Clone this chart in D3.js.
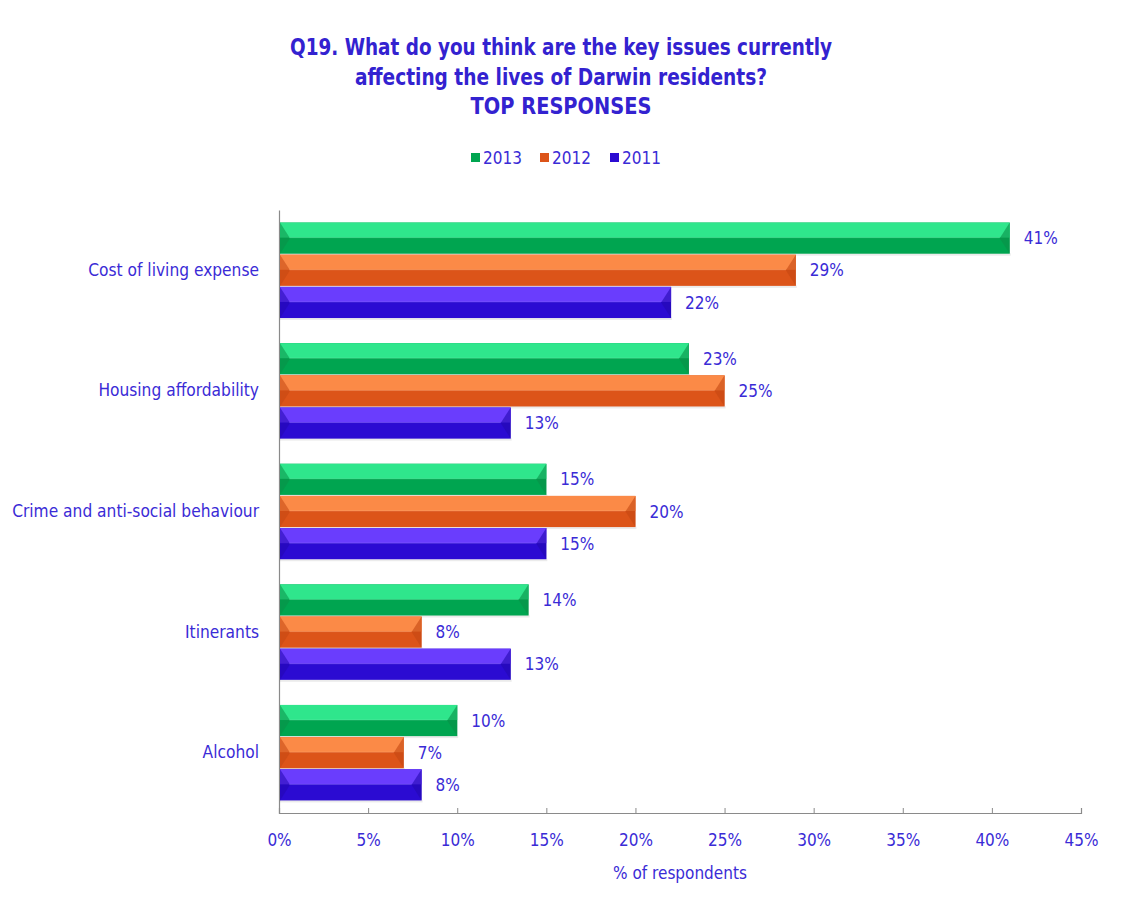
<!DOCTYPE html>
<html><head><meta charset="utf-8">
<script src="https://cdn.jsdelivr.net/npm/d3@7"></script>
<style>
html,body{margin:0;padding:0;background:#fff;}
text{font-family:'Liberation Sans Narrow','Arial Narrow','DejaVu Sans Condensed',sans-serif;}
</style></head>
<body>
<svg id="c" width="1122" height="907"></svg>
<script>
const categories = ["Cost of living expense","Housing affordability","Crime and anti-social behaviour","Itinerants","Alcohol"];
const years = ["2013","2012","2011"];
const values2013 = [41,23,15,14,10];
const values2012 = [29,25,20,8,7];
const values2011 = [22,13,15,13,8];
const xTicks = [0,5,10,15,20,25,30,35,40,45];
const titleLines = ["Q19. What do you think are the key issues currently","affecting the lives of Darwin residents?","TOP RESPONSES"];
const xTitle = "% of respondents";

const seriesVals = {"2013":values2013,"2012":values2012,"2011":values2011};
const light = {"2013":"#2fe68c","2012":"#fb8a47","2011":"#6a3dfd"};
const dark  = {"2013":"#00a550","2012":"#dc5419","2011":"#2b0bd2"};
const edge  = {"2013":"#0a8f47","2012":"#c44712","2011":"#2308b0"};
const txt = "#3a2bd6";
const FF = "'Liberation Sans Narrow','Arial Narrow','DejaVu Sans Condensed',sans-serif";

const svg = d3.select("#c");
const L=279, R=1081, T=210, B=813;
const x = d3.scaleLinear().domain([0,45]).range([L,R]);
const y = d3.scaleBand().domain(categories).range([T,B]).paddingInner(0.2).paddingOuter(0.1);
const yi = d3.scaleBand().domain(years).range([0,y.bandwidth()]).padding(0);

// title
const titleLen=[542,412,181];
svg.append("g").selectAll("text").data(titleLines).join("text")
  .attr("x",561).attr("y",(d,i)=>55+i*29.5).attr("text-anchor","middle")
  .attr("font-size",23).attr("font-weight","bold").attr("fill","#3322d0")
  .attr("textLength",(d,i)=>titleLen[i]).attr("lengthAdjust","spacingAndGlyphs").text(d=>d);

// legend
const leg = svg.append("g");
const legX = [471,540,610];
years.forEach((yr,i)=>{
  leg.append("rect").attr("x",legX[i]).attr("y",153).attr("width",9).attr("height",9).attr("fill",dark[yr]);
  leg.append("text").attr("x",legX[i]+12).attr("y",164).attr("font-size",17).attr("fill",txt).text(yr);
});

// axes
const gx = svg.append("g").attr("transform",`translate(0,${B})`)
  .call(d3.axisBottom(x).tickValues(xTicks).tickSize(-5).tickPadding(21).tickFormat(d=>d+"%"));
gx.select(".domain").attr("stroke","#8a8a8a").attr("stroke-width",1.2);
gx.selectAll(".tick line").attr("stroke","#8a8a8a");
gx.selectAll(".tick text").attr("font-size",17).attr("fill",txt).attr("font-family",FF);

const gy = svg.append("g").attr("transform",`translate(${L},0)`)
  .call(d3.axisLeft(y).tickSize(0).tickPadding(20));
gy.select(".domain").attr("stroke","#8a8a8a").attr("stroke-width",1.2);
gy.selectAll(".tick text").attr("font-size",17.2).attr("fill",txt).attr("font-family",FF);

svg.append("text").attr("x",(L+R)/2).attr("y",879).attr("text-anchor","middle")
  .attr("font-size",17).attr("fill",txt).text(xTitle);

// bars
const data=[];
categories.forEach((c,ci)=>years.forEach(yr=>data.push({c,yr,v:seriesVals[yr][ci]})));
const bars = svg.append("g").selectAll("g").data(data).join("g")
  .attr("transform",d=>`translate(0,${y(d.c)+yi(d.yr)})`);
const h = yi.bandwidth();
bars.append("rect").attr("x",x(0)+1).attr("y",h-1).attr("width",d=>x(d.v)-x(0)).attr("height",2.5).attr("fill","#000").attr("opacity",0.08);
bars.append("rect").attr("x",x(0)+1).attr("y",0.5).attr("width",d=>x(d.v)-x(0)-1).attr("height",h-1).attr("fill",d=>dark[d.yr]);
bars.append("rect").attr("x",x(0)+1).attr("y",0.5).attr("width",d=>x(d.v)-x(0)-1).attr("height",h/2-1).attr("fill",d=>light[d.yr]);
bars.append("path").attr("d",d=>{const a=x(0)+1, b=10; return `M${a},0.5 L${a+b},${h/2} L${a},${h-0.5} Z`;})
  .attr("fill",d=>edge[d.yr]).attr("opacity",0.55);
bars.append("path").attr("d",d=>{const e=x(d.v), b=Math.min(10,(x(d.v)-x(0))/4); return `M${e},0.5 L${e-b},${h/2} L${e},${h-0.5} Z`;})
  .attr("fill",d=>edge[d.yr]).attr("opacity",0.6);
bars.append("rect").attr("x",x(0)+10).attr("y",h/2-1).attr("width",d=>Math.max(0,x(d.v)-x(0)-20)).attr("height",1).attr("fill","#fff").attr("opacity",0.15);

bars.append("text").attr("x",d=>x(d.v)+14).attr("y",h/2).attr("dy","0.36em")
  .attr("font-size",17).attr("fill",txt).text(d=>d.v+"%");
</script>
</body></html>
